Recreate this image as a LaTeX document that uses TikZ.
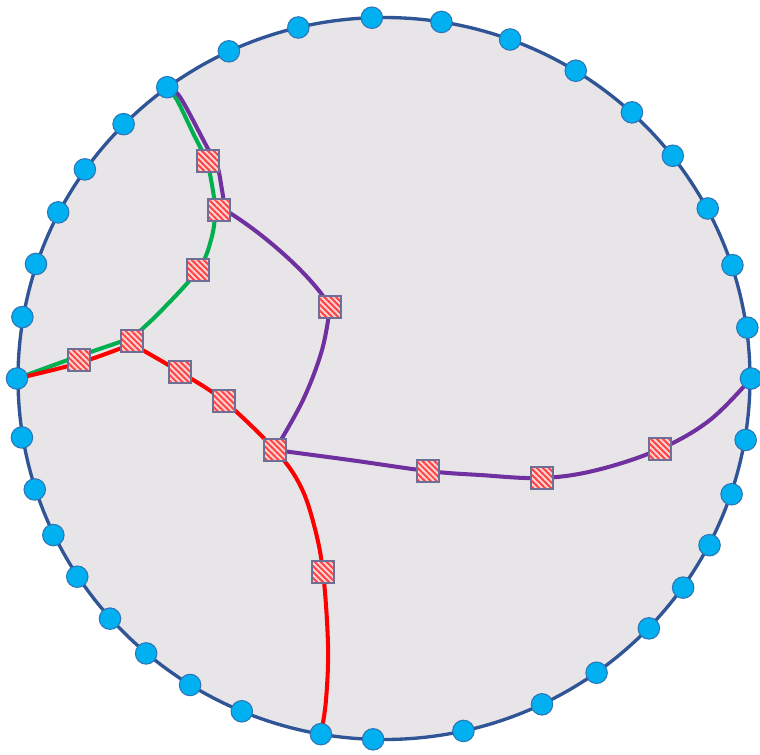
\documentclass[tikz,border=0pt]{standalone}
\usetikzlibrary{patterns.meta}

\definecolor{rimblue}{RGB}{47,85,151}
\definecolor{diskgray}{RGB}{231,229,231}
\definecolor{portblue}{RGB}{0,176,240}
\definecolor{portedge}{RGB}{46,117,182}
\definecolor{wiregreen}{RGB}{0,176,80}
\definecolor{wirered}{RGB}{255,0,0}
\definecolor{wirepurple}{RGB}{112,48,160}
\definecolor{relayedge}{RGB}{110,110,150}

\pgfdeclarelayer{disk}
\pgfdeclarelayer{wires}
\pgfsetlayers{disk,wires,main}

\tikzset{
  port/.style={circle, fill=portblue, draw=portedge, line width=0.6pt,
    minimum size=0.43cm, inner sep=0pt},
  relay/.style={rectangle, draw=relayedge, line width=0.6pt,
    minimum size=0.44cm, inner sep=0pt, preaction={fill=red!18},
    pattern={Lines[angle=135,distance=2.4pt,line width=1.1pt]},
    pattern color=red!75},
  wire/.style={line width=2.3pt, line cap=round}
}

\begin{document}
\begin{tikzpicture}[x=0.02cm, y=-0.02cm]
    \useasboundingbox (0,0) rectangle (760,754);

    % Diskas
    \begin{pgfonlayer}{disk}
        \draw[rimblue, line width=1.9pt, fill=diskgray]
            (384,378.5) ellipse [x radius=366, y radius=361];
    \end{pgfonlayer}

    % Taskai ant krasto
    \foreach \a [count=\i] in {91.9,81.0,69.9,58.5,47.5,38.1,28.1,18.3,8.1,0,
        -9.8,-18.7,-27.5,-35.4,-43.8,-54.6,-64.5,-77.5,-91.7,-99.9,
        -112.8,-121.9,-130.4,-138.3,-146.7,-154.3,-162.1,-170.6,180,170.2,
        161.5,152.6,144.6,135.2,126.2,115.0,103.5}
        \node[port] (d\i) at ({384+367*cos(\a)},{378.5-361*sin(\a)}) {};

    % Relės
    \node[relay] (s1) at (208,161) {};
    \node[relay] (s2) at (219,210) {};
    \node[relay] (s3) at (198,270) {};
    \node[relay] (s4) at (132,341) {};
    \node[relay] (s5) at (79,360) {};
    \node[relay] (s6) at (180,372) {};
    \node[relay] (s7) at (224,401) {};
    \node[relay] (s8) at (275,450) {};
    \node[relay] (s9) at (330,307) {};
    \node[relay] (s10) at (428,471) {};
    \node[relay] (s11) at (542,478) {};
    \node[relay] (s12) at (660,449) {};
    \node[relay] (s13) at (323,572) {};

    % Keliai
    \begin{pgfonlayer}{wires}
        \draw[wire, wiregreen] plot[smooth, tension=0.6] coordinates {
            (d35.center) (177,100) (193,133) (206,160) (212,185) (215,212)
            (211,240) (s3.center) (160,312) (132,338)};
        \draw[wire, wiregreen] plot[smooth, tension=0.6] coordinates {
            (132,338) (79,356) (d29.center)};

        \draw[wire, wirepurple] plot[smooth, tension=0.6] coordinates {
            (d35.center) (180,97) (207,147) (217,165) (222,190) (225,210)};
        \draw[wire, wirepurple] (225,210) .. controls (265,234) and (315,279)
            .. (s9.center);
        \draw[wire, wirepurple] plot[smooth, tension=0.6] coordinates {
            (s9.center) (322,350) (303,400) (s8.center)};
        \draw[wire, wirepurple] plot[smooth, tension=0.6] coordinates {
            (s8.center) (350,460) (s10.center) (480,475) (s11.center)
            (597,470) (s12.center) (710,420) (d10.center)};

        \draw[wire, wirered] plot[smooth, tension=0.6] coordinates {
            (d29.center) (79,363) (132,344)};
        \draw[wire, wirered] plot[smooth, tension=0.6] coordinates {
            (132,344) (s6.center) (s7.center) (s8.center) (300,485)
            (314,525) (s13.center) (328,645) (326,700) (d20.center)};
    \end{pgfonlayer}
\end{tikzpicture}
\end{document}
